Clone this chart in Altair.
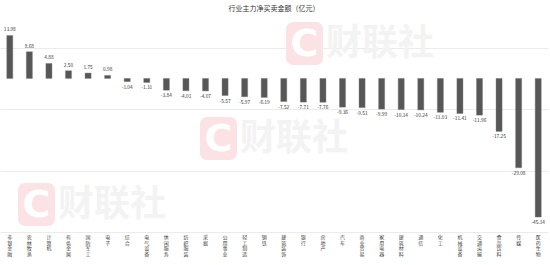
import altair as alt
import pandas as pd

categories = ["非银金融", "农林牧渔", "计算机", "有色金属", "国防军工", "电子", "综合",
              "电气设备", "休闲服务", "纺织服装", "采掘", "公用事业", "轻工制造", "钢铁",
              "建筑装饰", "银行", "房地产", "汽车", "商业贸易", "家用电器", "建筑材料",
              "通信", "化工", "机械设备", "交通运输", "食品饮料", "传媒", "医药生物"]
values = [13.98, 8.68, 4.88, 2.50, 1.75, 0.98, -1.04, -1.31, -3.84, -4.01, -4.07,
          -5.57, -5.97, -6.19, -7.52, -7.71, -7.76, -9.36, -9.51, -9.99, -10.14,
          -10.24, -11.03, -11.41, -11.96, -17.25, -29.08, -45.14]

df = pd.DataFrame({"cat": categories, "val": values})
df["lbl"] = df["val"].map(lambda v: f"{v:.2f}")

# one row per character of each category name, for vertical labels
chars = pd.DataFrame([{"cat": c, "i": i, "ch": ch}
                      for c in categories for i, ch in enumerate(c)])

FONT = "Noto Sans CJK SC"

xenc = alt.X("cat:N", sort=categories, title=None,
             scale=alt.Scale(paddingInner=0.69, paddingOuter=0.345),
             axis=alt.Axis(labels=False, domain=False, ticks=False, grid=False))
yenc = alt.Y("val:Q", title=None,
             scale=alt.Scale(domain=[-50, 20], nice=False),
             axis=alt.Axis(labels=False, ticks=False, domain=False, grid=True,
                           gridColor="#ebebeb", gridWidth=1,
                           values=[20, 10, 0, -10, -20, -30, -40, -50]))

wm = pd.DataFrame({"k": [0]})

def watermark(x0, y0):
    sq = alt.Chart(wm).mark_rect(color="#fbe3e5", cornerRadius=7).encode(
        x=alt.value(x0), x2=alt.value(x0 + 37), y=alt.value(y0), y2=alt.value(y0 + 43))
    c = alt.Chart(wm).mark_text(text="C", color="#ffffff", font="DejaVu Sans", fontWeight="bold",
                                fontSize=38, align="center", baseline="middle").encode(
        x=alt.value(x0 + 18.5), y=alt.value(y0 + 23))
    t = alt.Chart(wm).mark_text(text="财联社", color="#f3f3f3", font=FONT, fontWeight="bold",
                                fontSize=36, align="left", baseline="middle").encode(
        x=alt.value(x0 + 40), y=alt.value(y0 + 22))
    return sq + c + t

wms = watermark(18, 166) + watermark(200, 100) + watermark(286, 5)

bars = alt.Chart(df).mark_bar(color="#575757", stroke="#7a7a7a", strokeWidth=0.4).encode(
    x=xenc, y=yenc)

lab_pos = alt.Chart(df).transform_filter("datum.val >= 0").mark_text(
    font=FONT, fontSize=4.8, color="#333", baseline="bottom", dy=-3).encode(
    x=alt.X("cat:N", sort=categories), y="val:Q", text="lbl:N")
lab_neg = alt.Chart(df).transform_filter("datum.val < 0").mark_text(
    font=FONT, fontSize=4.8, color="#333", baseline="top", dy=3).encode(
    x=alt.X("cat:N", sort=categories), y="val:Q", text="lbl:N")

main = alt.layer(wms, bars, lab_pos, lab_neg)

xlabels = alt.Chart(chars).mark_text(
    font=FONT, fontSize=5, color="#444", baseline="top", align="center").encode(
    x=alt.X("cat:N", sort=categories, axis=None),
    y=alt.Y("i:Q", axis=None,
            scale=alt.Scale(domain=[0, 1], range=[218, 223.6], zero=False, nice=False)),
    text="ch:N")

chart = alt.layer(main, xlabels).resolve_scale(y="independent").properties(
    width=548, height=215,
    autosize=alt.AutoSizeParams(type="none"),
    padding={"left": 0, "top": 17, "right": 2, "bottom": 33},
    title=alt.TitleParams("行业主力净买卖金额（亿元）", font=FONT, fontSize=7,
                          fontWeight="normal", color="#333", anchor="middle", offset=5),
).configure_view(stroke=None)

chart.save("out.html", embed_options={"renderer": "svg", "actions": False})
